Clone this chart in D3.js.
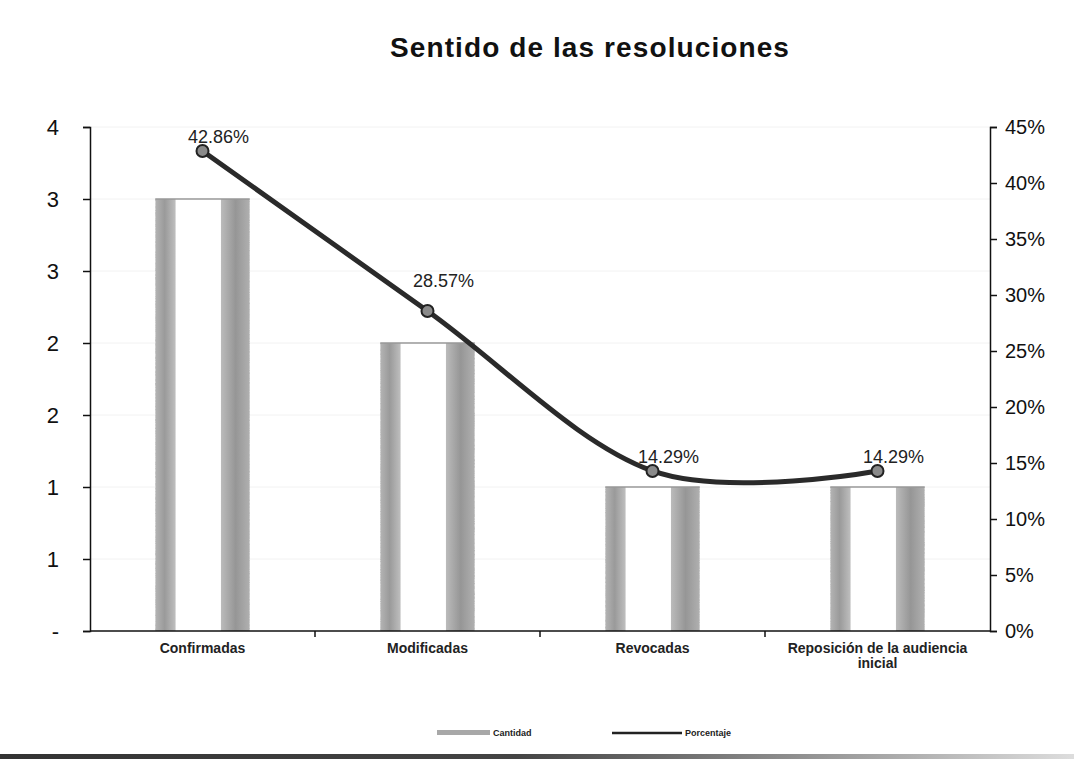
<!DOCTYPE html>
<html>
<head>
<meta charset="utf-8">
<script src="https://cdn.jsdelivr.net/npm/d3@7"></script>
<style>
  body { margin: 0; background: #fff; }
  svg { display: block; font-family: "Liberation Sans", Arial, sans-serif; }
</style>
</head>
<body>
<div id="chart"></div>
<script>
const categories = ["Confirmadas", "Modificadas", "Revocadas", "Reposición de la audiencia inicial"];
const cantidad = [3, 2, 1, 1];
const porcentaje = [0.4286, 0.2857, 0.1429, 0.1429];
const leftTicks = [0, 0.5, 1, 1.5, 2, 2.5, 3, 3.5];
const rightTicks = [0, 0.05, 0.1, 0.15, 0.2, 0.25, 0.3, 0.35, 0.4, 0.45];

const W = 1074, H = 759;
const margin = { top: 127, right: 84, bottom: 128, left: 90 };
const width = W - margin.left - margin.right;
const height = H - margin.top - margin.bottom;

const svgRoot = d3.select("#chart").append("svg")
  .attr("width", W).attr("height", H);

const defs = svgRoot.append("defs");
const grad = defs.append("linearGradient").attr("id", "barGrad")
  .attr("x1", "0%").attr("x2", "100%").attr("y1", "0%").attr("y2", "0%");
[["0%", "#b4b4b4"], ["10%", "#9a9a9a"], ["21%", "#bdbdbd"], ["22%", "#ffffff"],
 ["69%", "#ffffff"], ["70%", "#bababa"], ["85%", "#969696"], ["100%", "#b0b0b0"]]
  .forEach(([o, c]) => grad.append("stop").attr("offset", o).attr("stop-color", c));

// grainy texture like the scanned original
const grain = defs.append("filter").attr("id", "grain");
grain.append("feTurbulence").attr("type", "fractalNoise").attr("baseFrequency", "0.9")
  .attr("numOctaves", 2).attr("seed", 3).attr("result", "noise");
grain.append("feColorMatrix").attr("in", "noise").attr("type", "matrix")
  .attr("values", "0 0 0 0 0  0 0 0 0 0  0 0 0 0 0  0 0 0 -1.1 0.75").attr("result", "dots");
grain.append("feComposite").attr("in", "dots").attr("in2", "SourceGraphic")
  .attr("operator", "arithmetic").attr("k1", 0).attr("k2", 0.35).attr("k3", 1).attr("k4", 0)
  .attr("result", "mixed");
grain.append("feComposite").attr("in", "mixed").attr("in2", "SourceGraphic").attr("operator", "in");

const svg = svgRoot.append("g").attr("transform", `translate(${margin.left},${margin.top})`);

const x = d3.scaleBand().domain(categories).range([0, width]).paddingInner(0.58).paddingOuter(0.29);
const step = x.step();
const yL = d3.scaleLinear().domain([0, 3.5]).range([height, 0]);
const yR = d3.scaleLinear().domain([0, 0.45]).range([height, 0]);

// faint grid lines
svg.append("g").selectAll("line")
  .data(leftTicks.slice(1))
  .join("line")
  .attr("x1", 0).attr("x2", width)
  .attr("y1", d => yL(d)).attr("y2", d => yL(d))
  .attr("stroke", "#f2f2f2").attr("stroke-width", 1);

// bars
svg.append("g").attr("filter", "url(#grain)").selectAll("rect")
  .data(cantidad)
  .join("rect")
  .attr("x", (d, i) => x(categories[i]))
  .attr("width", x.bandwidth())
  .attr("y", d => yL(d))
  .attr("height", d => height - yL(d))
  .attr("fill", "url(#barGrad)");

svg.append("g").selectAll("line")
  .data(cantidad)
  .join("line")
  .attr("x1", (d, i) => x(categories[i]))
  .attr("x2", (d, i) => x(categories[i]) + x.bandwidth())
  .attr("y1", d => yL(d)).attr("y2", d => yL(d))
  .attr("stroke", "#999").attr("stroke-width", 1.5);

// left axis
const leftAxis = svg.append("g")
  .call(d3.axisLeft(yL).tickValues(leftTicks).tickSize(7).tickPadding(24)
    .tickFormat(d => d === 0 ? "-" : d3.format(".0f")(Math.round(d))));
leftAxis.select(".domain").attr("stroke", "#111").attr("stroke-width", 1.5);
leftAxis.selectAll(".tick line").attr("stroke", "#111").attr("stroke-width", 1.5);
leftAxis.selectAll("text").attr("fill", "#111").style("font-size", "22px");

// right axis
const rightAxis = svg.append("g").attr("transform", `translate(${width},0)`)
  .call(d3.axisRight(yR).tickValues(rightTicks).tickSize(7).tickPadding(8)
    .tickFormat(d3.format(".0%")));
rightAxis.select(".domain").attr("stroke", "#111").attr("stroke-width", 1.5);
rightAxis.selectAll(".tick line").attr("stroke", "#111").attr("stroke-width", 1.5);
rightAxis.selectAll("text").attr("fill", "#111").style("font-size", "20px");

// x axis
svg.append("line")
  .attr("x1", 0).attr("x2", width).attr("y1", height).attr("y2", height)
  .attr("stroke", "#111").attr("stroke-width", 1.5);
svg.append("g").selectAll("line")
  .data(categories.slice(1))
  .join("line")
  .attr("x1", d => x(d) - step * 0.29).attr("x2", d => x(d) - step * 0.29)
  .attr("y1", height).attr("y2", height + 6)
  .attr("stroke", "#111").attr("stroke-width", 1.5);

const xLabels = svg.append("g").selectAll("text")
  .data(categories)
  .join("text")
  .attr("x", d => x(d) + x.bandwidth() / 2)
  .attr("y", height + 22)
  .attr("text-anchor", "middle")
  .style("font-size", "14px")
  .style("font-weight", "bold")
  .attr("fill", "#222");
xLabels.each(function (d) {
  const t = d3.select(this);
  const parts = d.length > 20 ? ["Reposición de la audiencia", "inicial"] : [d];
  parts.forEach((p, k) => t.append("tspan")
    .attr("x", x(d) + x.bandwidth() / 2).attr("dy", k ? 15 : 0).text(p));
});

// line
const line = d3.line()
  .x((d, i) => x(categories[i]) + x.bandwidth() / 2)
  .y(d => yR(d))
  .curve(d3.curveCardinal.tension(0));

svg.append("path")
  .datum(porcentaje)
  .attr("fill", "none")
  .attr("stroke", "#2a2a2a")
  .attr("stroke-width", 5)
  .attr("d", line);

svg.append("g").selectAll("circle")
  .data(porcentaje)
  .join("circle")
  .attr("cx", (d, i) => x(categories[i]) + x.bandwidth() / 2)
  .attr("cy", d => yR(d))
  .attr("r", 6)
  .attr("fill", "#8a8a8a")
  .attr("stroke", "#222")
  .attr("stroke-width", 2);

svg.append("g").selectAll("text")
  .data(porcentaje)
  .join("text")
  .attr("x", (d, i) => x(categories[i]) + x.bandwidth() / 2 + 16)
  .attr("y", (d, i) => yR(d) - (i === 1 ? 24 : 8))
  .attr("text-anchor", "middle")
  .style("font-size", "18px")
  .attr("fill", "#222")
  .text(d => d3.format(".2%")(d));

// title
svgRoot.append("text")
  .attr("x", 590).attr("y", 57)
  .attr("text-anchor", "middle")
  .style("font-size", "28px")
  .style("font-weight", "bold")
  .style("letter-spacing", "1.1px")
  .attr("fill", "#111")
  .text("Sentido de las resoluciones");

// legend
const legend = svgRoot.append("g").attr("transform", "translate(0,733)");
legend.append("rect").attr("x", 437).attr("y", -3).attr("width", 53).attr("height", 5)
  .attr("fill", "#a8a8a8");
legend.append("text").attr("x", 493).attr("y", 3)
  .style("font-size", "9px").style("font-weight", "bold").attr("fill", "#222").text("Cantidad");
legend.append("line").attr("x1", 612).attr("x2", 682).attr("y1", 0).attr("y2", 0)
  .attr("stroke", "#222").attr("stroke-width", 2.5);
legend.append("text").attr("x", 685).attr("y", 3)
  .style("font-size", "9px").style("font-weight", "bold").attr("fill", "#222").text("Porcentaje");

// bottom border
const bgrad = defs.append("linearGradient").attr("id", "bottomGrad");
[["0%", "#333"], ["48%", "#444"], ["66%", "#777"], ["100%", "#ddd"]]
  .forEach(([o, c]) => bgrad.append("stop").attr("offset", o).attr("stop-color", c));
svgRoot.append("rect").attr("x", 0).attr("y", 754).attr("width", W).attr("height", 5)
  .attr("fill", "url(#bottomGrad)");
</script>
</body>
</html>
